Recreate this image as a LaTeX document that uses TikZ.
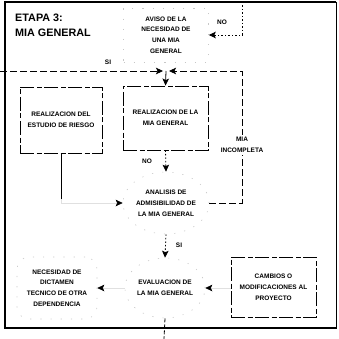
\documentclass[tikz,border=0pt]{standalone}
\usepackage{fontspec}
\setmainfont{Liberation Sans}
\usetikzlibrary{arrows.meta,shapes.geometric}
\tikzset{
  lbl/.style={font=\fontsize{6.5}{10.8}\selectfont\bfseries, align=center, inner sep=0pt},
  titletxt/.style={font=\fontsize{10.8}{12}\selectfont\bfseries, inner sep=0pt, anchor=base west},
  procbox/.style={lbl, draw, line width=0.8pt, dash pattern=on 14pt off 2.5pt on 5pt off 2.5pt, rectangle},
  ghost/.style={lbl, draw=black!22, line width=0.6pt, dash pattern=on 1.2pt off 9pt},
  tip/.style={-{Stealth[length=7pt,width=6.5pt,inset=1.5pt,color=black,fill=black]}},
  link/.style={line width=0.8pt, tip},
  dashlink/.style={link, dash pattern=on 7pt off 3pt},
  dotlink/.style={link, dash pattern=on 1.5pt off 2pt},
  faintlink/.style={line width=0.6pt, draw=black!12, tip},
}
\begin{document}
\begin{tikzpicture}[x=1pt,y=-1pt]
\useasboundingbox (0,0) rectangle (338,339);

% outer frame of the stage
\draw[line width=1.2pt] (5,2) -- (336,2);
\draw[line width=0.9pt] (336,2) -- (336,328);
\draw[line width=2.8pt] (5,1) -- (5,329);
\draw[line width=2.8pt] (4,328) -- (337,328);

% title
\node[titletxt] (etapa) at (15,22) {ETAPA 3:};
\node[titletxt] (miagen) at (15,37) {MIA GENERAL};

% nodes
\node[ghost, rectangle, minimum width=85pt, minimum height=54pt] (aviso) at (166,35)
  {AVISO DE LA\\NECESIDAD DE\\UNA MIA\\GENERAL};
\node[procbox, minimum width=82pt, minimum height=66pt] (riesgo) at (61,120)
  {REALIZACION DEL\\ESTUDIO DE RIESGO};
\node[procbox, minimum width=85pt, minimum height=64pt] (mia) at (165.5,118)
  {REALIZACION DE LA\\MIA GENERAL};
\node[ghost, ellipse, minimum width=86pt, minimum height=62pt] (analisis) at (166,203)
  {ANALISIS DE\\ADMISIBILIDAD DE\\LA MIA GENERAL};
\node[ghost, ellipse, minimum width=80pt, minimum height=60pt] (evaluacion) at (165,288)
  {EVALUACION DE\\LA MIA GENERAL};
\node[ghost, rectangle, rounded corners=12pt, minimum width=80pt, minimum height=62pt] (necesidad) at (57,288)
  {NECESIDAD DE\\DICTAMEN\\TECNICO DE OTRA\\DEPENDENCIA};
\node[procbox, minimum width=85pt, minimum height=60pt] (cambios) at (273.5,287)
  {CAMBIOS O\\MODIFICACIONES AL\\PROYECTO};

% free ends and junction
\coordinate (siin) at (0,71);
\coordinate (j) at (166,71);
\coordinate (noin) at (242,2);
\coordinate (out) at (164,339);

% connectors
\draw[dashlink, shorten >=3pt] (siin) -- (j);
\draw[dashlink, shorten >=3pt] (analisis.east) -| (242,71) -- (j);
\draw[link] (j) -- (mia.north);
\draw[dotlink] (noin) |- (aviso.east);
\draw[dotlink] (mia.south) -- (analisis.north);
\draw[line width=0.8pt] (riesgo.south) -- ++(0,46) coordinate (rturn);
\draw[faintlink] (rturn) |- (analisis.west);
\draw[dotlink] (analisis.south) -- (evaluacion.north);
\draw[faintlink] (cambios.west |- evaluacion.east) -- (evaluacion.east);
\draw[faintlink] (evaluacion.west) -- (necesidad.east);
\draw[line width=0.8pt, dash pattern=on 4pt off 2pt] (evaluacion.south) -- (out);

% connector labels
\node[lbl] (lsi1) at (108,62) {SI};
\node[lbl] (lno1) at (222,22) {NO};
\node[lbl] (lno2) at (147,161) {NO};
\node[lbl] (lsi2) at (179,245) {SI};
\node[lbl, fill=white, inner sep=2pt] (lincomp) at (242,145) {MIA\\INCOMPLETA};
\end{tikzpicture}
\end{document}
